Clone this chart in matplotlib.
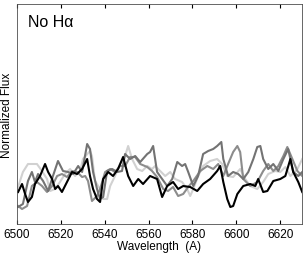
import numpy as np
import matplotlib.pyplot as plt

plt.rcParams['font.family'] = ['Liberation Sans', 'DejaVu Sans']

# spectra (wavelength in A, normalised flux)
wl_black = [6500.5, 6502.3, 6503.7, 6505.0, 6506.8, 6508.2, 6510.5, 6512.8, 6514.2, 6516.0,
            6517.4, 6518.7, 6520.5, 6522.8, 6525.1, 6527.4, 6529.7, 6532.0, 6533.3, 6534.7,
            6536.5, 6537.9, 6539.3, 6541.6, 6543.8, 6546.1, 6548.4, 6550.7, 6553.0, 6555.3,
            6557.5, 6560.7, 6563.9, 6566.2, 6568.5, 6571.2, 6573.5, 6575.8, 6579.0, 6582.2,
            6584.9, 6588.1, 6591.3, 6592.7, 6594.1, 6595.9, 6597.3, 6598.6, 6600.5, 6603.2,
            6606.4, 6608.7, 6610.0, 6612.3, 6614.2, 6616.9, 6620.1, 6622.4, 6624.7, 6626.0,
            6628.3, 6630.1]
fl_black = [0.948, 0.980, 0.940, 0.908, 0.928, 0.980, 1.012, 1.060, 1.028, 1.000,
            0.960, 0.972, 0.948, 0.988, 1.028, 1.020, 1.040, 1.080, 1.012, 0.960,
            0.920, 0.908, 1.000, 1.028, 1.012, 1.040, 1.088, 1.012, 0.972, 1.000,
            0.980, 1.012, 1.000, 0.928, 0.972, 0.988, 0.960, 0.972, 0.968, 0.952,
            0.980, 1.000, 1.032, 1.052, 0.988, 0.920, 0.888, 0.892, 0.940, 0.972,
            0.980, 0.972, 1.000, 0.948, 0.952, 0.992, 1.000, 1.012, 1.080, 1.028,
            0.988, 0.948]

wl_dark = [6500.5, 6502.7, 6505.0, 6506.8, 6508.2, 6509.6, 6511.9, 6514.2, 6516.4, 6518.7,
           6521.0, 6523.3, 6525.6, 6527.9, 6529.7, 6532.0, 6533.3, 6534.7, 6536.5, 6537.9,
           6539.3, 6541.1, 6543.4, 6545.7, 6547.9, 6549.3, 6551.6, 6553.9, 6556.2, 6559.4,
           6560.7, 6562.1, 6563.9, 6566.2, 6568.5, 6570.8, 6573.1, 6575.3, 6576.7, 6578.1,
           6580.4, 6582.6, 6584.9, 6587.2, 6589.5, 6591.3, 6593.2, 6594.1, 6596.3, 6598.6,
           6600.9, 6603.2, 6605.5, 6607.8, 6609.6, 6611.0, 6612.3, 6614.6, 6616.9, 6619.2,
           6621.5, 6623.7, 6626.0, 6628.3, 6630.1]
fl_dark = [0.888, 0.900, 0.992, 1.028, 0.988, 1.020, 0.992, 0.952, 1.012, 1.072,
           1.032, 1.028, 1.020, 1.052, 1.028, 1.140, 1.120, 1.028, 0.960, 0.920,
           0.928, 1.032, 1.040, 1.028, 1.032, 1.100, 1.080, 1.092, 1.068, 1.100,
           1.108, 1.132, 1.028, 1.000, 0.972, 1.000, 1.068, 1.052, 1.060, 1.028,
           0.972, 1.012, 1.100, 1.112, 1.120, 1.132, 1.148, 1.080, 1.012, 1.028,
           1.020, 1.000, 1.028, 1.080, 1.128, 1.132, 1.080, 1.040, 1.060, 1.032,
           1.080, 1.120, 1.028, 1.012, 1.028]

wl_mid = [6500.5, 6502.3, 6504.6, 6506.8, 6509.1, 6511.4, 6513.7, 6516.0, 6518.3, 6520.5,
          6522.8, 6525.1, 6527.4, 6529.7, 6531.1, 6532.4, 6534.2, 6536.5, 6537.9, 6540.2,
          6542.5, 6544.7, 6547.0, 6549.3, 6551.6, 6553.9, 6556.2, 6559.4, 6561.6, 6563.9,
          6566.7, 6568.9, 6571.2, 6573.5, 6575.8, 6578.1, 6580.4, 6583.6, 6586.8, 6589.5,
          6591.8, 6594.1, 6596.3, 6598.6, 6600.5, 6601.8, 6603.2, 6606.4, 6609.6, 6612.3,
          6614.6, 6616.9, 6619.2, 6621.5, 6623.3, 6625.6, 6627.9, 6630.1]
fl_mid = [0.892, 0.880, 0.892, 0.972, 0.988, 0.972, 0.948, 0.972, 1.012, 1.020,
          1.008, 1.032, 1.028, 1.008, 1.012, 0.992, 0.912, 0.932, 0.960, 1.028,
          1.040, 1.028, 1.052, 1.052, 1.088, 1.088, 1.060, 1.048, 1.032, 1.008,
          0.960, 0.952, 0.968, 0.932, 0.940, 0.968, 0.992, 1.032, 1.052, 1.040,
          1.060, 1.012, 1.060, 1.108, 1.132, 1.108, 1.000, 0.972, 0.988, 1.032,
          1.060, 1.032, 1.052, 1.092, 1.128, 1.080, 1.032, 1.012]

wl_light = [6500.5, 6502.7, 6505.0, 6509.1, 6511.4, 6513.7, 6515.1, 6517.4, 6519.6, 6521.9,
            6524.2, 6526.5, 6528.8, 6530.1, 6533.3, 6534.2, 6535.6, 6537.9, 6539.3, 6541.1,
            6542.5, 6544.7, 6547.0, 6549.3, 6550.7, 6552.5, 6554.8, 6557.1, 6559.4, 6561.6,
            6563.0, 6565.3, 6567.6, 6569.9, 6572.1, 6575.3, 6577.6, 6579.0, 6580.4, 6582.6,
            6584.9, 6588.1, 6591.3, 6593.6, 6595.9, 6598.6, 6601.8, 6604.1, 6606.4, 6609.6,
            6612.3, 6614.6, 6617.8, 6620.1, 6622.4, 6624.7, 6627.9, 6630.1]
fl_light = [0.968, 1.028, 1.060, 1.060, 1.032, 1.000, 0.952, 0.960, 0.988, 1.020,
            1.040, 1.012, 1.032, 1.080, 1.112, 1.092, 0.992, 0.960, 0.920, 0.920,
            0.972, 1.012, 1.060, 1.092, 1.132, 1.080, 1.040, 1.032, 1.052, 1.040,
            1.052, 1.032, 1.012, 1.028, 1.000, 0.988, 0.960, 0.932, 0.960, 1.012,
            1.052, 1.072, 1.080, 1.060, 1.012, 1.008, 1.040, 1.000, 0.972, 0.960,
            0.988, 1.020, 1.032, 1.028, 1.048, 1.012, 1.040, 1.080]

xticks = [6500, 6520, 6540, 6560, 6580, 6600, 6620]

fig = plt.figure(figsize=(3.05, 2.55), dpi=100)
ax = fig.add_axes([17/305, 30/255, 285/305, 220/255])

ax.plot(wl_light, fl_light, color='0.82', lw=1.5)
ax.plot(wl_mid, fl_mid, color='0.55', lw=1.5)
ax.plot(wl_dark, fl_dark, color='0.45', lw=1.5)
ax.plot(wl_black, fl_black, color='black', lw=1.5)

ax.set_xlim(6500, 6630)
ax.set_ylim(0.82, 1.70)
ax.set_xticks(xticks)
ax.set_yticks([])
ax.tick_params(axis='x', direction='in', top=True, labelsize=8.5, length=3, pad=3)
for s in ax.spines.values():
    s.set_linewidth(0.6)
    s.set_color('0.3')

ax.set_xlabel('Wavelength  (A)', fontsize=8.5, labelpad=0)
ax.set_ylabel('Normalized Flux', fontsize=8.5, labelpad=3)
ax.text(0.04, 0.92, 'No H\u03b1', transform=ax.transAxes, fontsize=11.5, va='center')

fig.savefig('out.png', dpi=100)
